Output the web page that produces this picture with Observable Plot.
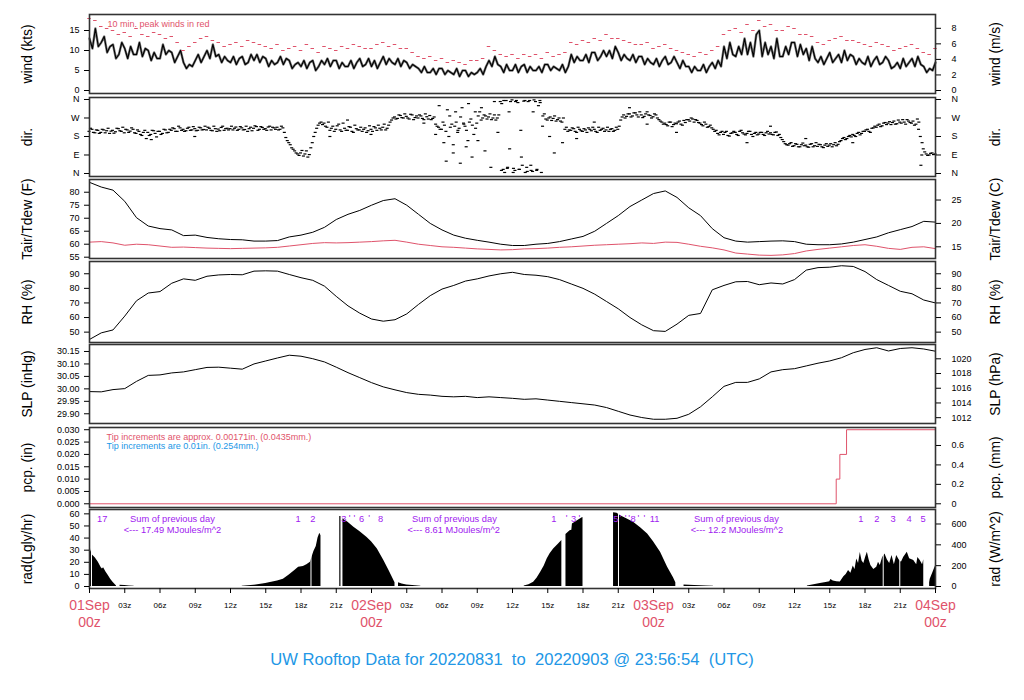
<!DOCTYPE html>
<html><head><meta charset="utf-8">
<script src="https://cdn.jsdelivr.net/npm/d3@7"></script>
<script src="https://cdn.jsdelivr.net/npm/@observablehq/plot@0.6"></script>
<style>
body{margin:0;background:#fff;font-family:"Liberation Sans",Arial,sans-serif;}
#chart{position:relative;width:1024px;height:700px;overflow:hidden;}
#title{position:absolute;top:650px;left:0;width:1024px;text-align:center;color:#2297E6;font-size:16.6px;white-space:pre;}
</style></head><body><div id="chart"><div id="title">UW Rooftop Data for 20220831  to  20220903 @ 23:56:54  (UTC)</div></div>
<script>
// ---------------- DATA ----------------
// wind speed (kts), every 15 min from 01Sep 00z
const windKts = [
13,10.5,15.5,11, 12,13.5,9.5,11, 11.5,8,9,12, 10.5,8,11,9, 9,12,8.5,10.5, 10,7.5,9.5,8, 8,11.5,9,10, 9.5,7,8.5,10,
7,5.5,6.5,6, 7.5,9,7,8.5, 10,8,11.5,8.5, 9,7,8.5,7.5, 7,8.5,6.5,8, 8.5,6.5,7,9, 7.5,9,7,8.5, 8,6,7.5,6.5,
7,8.5,6.5,8, 7.5,5.5,6.5,7, 6,7.5,5.5,7, 7.5,5,6,7.5, 6.5,8,6,7.5, 7.5,5.5,7,6, 6,7.5,5.5,7, 8,6,6.5,8,
6,7.5,5.5,7, 8.5,6.5,8,7, 6.5,8,6,7.5, 7,5.5,6.5,6, 5.5,4.5,6,4.5, 4.5,5.5,4,5.5, 5.5,4,5,4.5, 4,5.5,3.5,5,
5,3.5,4.5,4, 4.5,5.5,4,6, 7.5,6,8.5,6.5, 6,4.5,6.5,5, 5,6.5,4.5,6, 6.5,4.5,6,5, 5,6,4.5,6.5, 6.5,5,6,5.5,
5,6.5,4.5,6, 9,7,8.5,7.5, 7.5,9,7,9.5, 9.5,7.5,8.5,10, 8.5,10,8,11, 9.5,7.5,9,8, 7.5,9,7,8.5, 8.5,6.5,8,7,
6.5,8,6,7.5, 8.5,6.5,7,8.5, 7,5.5,7.5,6, 6,4.5,6,5, 5,6.5,4.5,6, 7,5.5,7.5,6, 11,8,12,9, 8.5,11,9,13,
9,12,8.5,14, 15,8.5,12,9, 11,8,13,8.5, 8.5,11,9,12, 12,8.5,11.5,9, 10.5,7.5,11,8, 7,8.5,6.5,8, 9.5,7,8,9,
7,10,7.5,9, 8.5,6.5,8,7, 6.5,8.5,6,7.5, 8.5,6.5,7,8.5, 7.5,5.5,6,7, 5.5,8,6,7, 8,6,8.5,6.5, 6,4.5,5.5,5, 7
];
// 10-min peak winds (kts), every 30 min
const windPeakKts = [
18,17.5, 16,15.5, 15,14, 14.5,13.5, 15.5,14, 13.5,14.5, 14,13, 13.5,12, 10,11, 12,13, 13.5,12.5, 12,11,
11.5,12, 11,12.5, 12,11.5, 11,10.5, 11.5,10, 10.5,11, 10,11.5, 10.5,9.5, 11,10.5, 10,11, 10.5,11.5, 11,10.5,
10.5,11.5, 12,11, 11.5,10.5, 10.5,9.5, 8.5,8, 8.5,7.5, 8,7, 7.5,7, 6.5,7.5, 7.5,8, 11,10, 9,8.5,
9,8, 9,8.5, 9,8, 9.5,8.5, 9,9.5, 12,11.5, 12.5,12, 13,12.5, 14,13, 13,12.5, 12,11.5, 11.5,12,
10.5,11, 11.5,10.5, 10,9.5, 9,8.5, 9.5,9, 10,11, 14,15, 15.5,14.5, 16.5,15, 17.5,16, 16.5,15, 15,16,
15.5,14, 14,13.5, 12,11.5, 12.5,13, 13.5,12.5, 12.5,12, 11.5,11, 12,11.5, 11,10, 10.5,11, 11.5,10.5, 9.5,9, 10.5
];
// wind direction (deg), every 15 min on the quarter hour
const dirDeg = [
205,215,198,210, 200,212,208,195, 210,203,218,205, 198,212,206,215, 195,205,185,210, 200,190,208,178,
205,195,212,200, 210,218,205,222, 215,208,225,212, 218,210,222,214, 212,220,208,218, 216,224,210,220,
218,212,226,215, 222,214,205,225, 220,228,215,224, 218,226,212,222, 225,215,222,175, 150,125,110,95,
100,85,110,92, 150,200,235,250, 245,225,210,230, 215,240,205,220, 210,225,200,218, 212,205,222,208,
215,228,210,220, 225,212,235,260, 275,268,282,270, 278,265,285,272, 270,280,262,276, 282,268,240,225,
215,235,310,225, 140,250,220,320, 230,160,265,190, 245,300,270,280, 275,262,285,270, 350,20,355,300,
358,15,345,210, 352,30,355,10, 350,330,5,290, 260,275,268,255, 270,250,215,205, 210,218,200,215,
205,212,222,208, 215,200,210,220, 212,205,218,210, 215,260,285,278, 290,280,295,275, 285,278,300,282,
276,285,262,250, 245,232,250,238, 242,255,235,248, 262,270,250,258, 245,232,240,228, 222,205,195,200,
190,205,182,198, 200,185,210,192, 195,205,180,200, 192,200,185,205, 198,188,202,190, 165,145,138,150,
135,142,130,148, 138,128,145,135, 132,140,126,145, 138,130,150,142, 160,175,170,185, 190,180,200,195,
205,215,200,222, 225,240,232,248, 245,238,255,242, 250,262,240,255, 245,235,265,180, 120,95,90,100, 95
];
// wind direction (deg), every 15 min, 7.5 min past the quarter hour
const dirDegMid = [
220,200,212,195, 215,198,220,206, 196,220,208,225, 215,200,222,198, 212,190,200,170, 185,210,195,205,
190,215,198,215, 222,205,230,210, 205,220,210,228, 208,225,212,230, 225,210,230,205, 208,230,218,212,
230,220,210,228, 212,230,218,208, 232,210,228,215, 210,230,225,215, 212,230,200,160, 140,118,100,88,
112,95,80,125, 180,220,245,238, 230,250,220,205, 232,212,245,210, 228,205,235,212, 225,215,200,232,
205,222,235,212, 240,220,250,270, 265,285,272,290, 270,288,262,280, 285,268,290,265, 262,275,230,215,
250,205,180,240, 230,200,275,245, 210,250,235,300, 280,260,285,265, 290,270,260,285, 340,5,30,350,
25,355,20,40, 5,350,15,358, 20,355,280,265, 270,258,280,262, 255,270,225,212, 222,205,225,208,
218,200,215,225, 205,225,215,205, 225,215,205,225, 230,275,270,290, 275,295,285,300, 272,290,285,270,
290,270,255,240, 238,250,228,245, 250,240,258,262, 255,265,262,248, 238,250,225,235, 215,210,188,205,
200,185,195,205, 190,205,198,188, 205,190,195,188, 200,190,198,192, 190,200,185,175, 155,140,145,132,
145,130,140,135, 130,142,130,150, 142,130,138,132, 145,140,135,155, 170,165,180,178, 185,195,188,205,
212,205,220,230, 235,228,245,238, 252,248,240,260, 245,250,262,248, 255,240,250,90, 105,88,98,92
];
const dirExtraT = [29.5,29.8,30.2,30.4,30.7,31.0,31.2,31.4,31.6,31.9,32.1,32.3,32.6,32.9,33.1,33.4,33.7,34.2,34.5,34.8,
35.1,35.3,35.6,35.8,36.1,36.3,36.6,36.8,37.1,37.3,37.6,37.8,38.1,38.4,38.6,39.2,39.6,40.3,41.5,43.0,46.0,47.5,50.0,56.0,58.0,61.0,65.0,70.8,70.9,70.6,20.5,22.0,9.0,5.3,24.0,28.5];
const dirExtraDeg = [190,330,150,60,280,100,300,210,50,240,130,340,80,220,160,320,110,30,350,200,
15,355,25,120,5,350,20,80,355,10,40,300,15,345,230,180,100,150,170,250,320,240,200,150,230,170,150,40,150,215,180,260,180,165,190,245];
// hourly air temperature / dew point (F), relative humidity (%), sea level pressure (inHg)
const tairF = [83.8,82,80.8,76.5,70.2,67,66,65.5,63.3,63.5,62.6,62.1,61.8,61.7,61.2,61.2,61.4,62.8,63.5,64.6,66.5,69.5,71.5,73,75,
76.8,77.5,75,71.5,68,65.5,63.5,62.3,61.5,60.8,60,59.5,59.5,60,60.3,61,62,63,65,68,71,74.5,77,79.5,
80.5,78,74,71,66,62.5,61.2,60.8,61,61.2,61.3,61,60,59.8,59.8,60.1,60.8,61.8,62.8,64.4,65.6,66.8,68.8,68.5];
const tdewF = [60.8,61,60.5,59.6,60,59.8,59.3,58.8,58.9,58.7,58.5,58.4,58.3,58.4,58.5,58.6,58.8,59.3,59.8,60.3,60.6,60.5,60.6,60.8,61,
61.3,61.5,60.8,60,59.5,59,58.8,58.5,58.2,58,57.8,57.9,58.2,58.3,58.5,58.8,59,59.3,59.6,59.8,60,60.2,60.5,60.3,
60.8,60.7,60,59.2,58.6,57.8,56.6,56.2,55.8,55.7,55.9,56.4,57.4,58,58.5,59,59.5,59.8,59.2,58.4,58,58.8,59,58.3];
const rhPct = [45,49.5,51.5,61,71.5,76.8,77.8,83.5,86.5,85.5,88.3,89.2,89.5,89.3,91.8,92,91.8,89.5,87.3,85.5,81.5,74.5,68,63,59,
57.5,58.5,62.5,69,75,79.5,82,85,86.5,88.5,90,91,89.5,89,88,86,83,80,76,71,66,60,55,51,
50.5,55.5,61.5,62.8,79,82,84.5,84.7,82.5,83.7,83,86,92.5,94.2,94.5,95.5,95,91.5,86,82,78,76.3,72,70];
const slpInHg = [29.989,29.988,29.997,30.001,30.030,30.054,30.056,30.064,30.068,30.077,30.086,30.087,30.083,30.079,30.100,30.112,30.124,30.135,30.131,30.121,30.108,30.087,30.065,30.045,30.025,
30.008,29.996,29.985,29.978,29.975,29.970,29.968,29.970,29.965,29.968,29.965,29.962,29.958,29.960,29.955,29.950,29.945,29.940,29.935,29.925,29.910,29.895,29.885,29.878,
29.878,29.882,29.898,29.928,29.968,30.010,30.026,30.026,30.040,30.068,30.077,30.081,30.092,30.103,30.112,30.125,30.145,30.158,30.165,30.152,30.162,30.165,30.160,30.151];
// accumulated precipitation (in)
const pcpT = [0, 63.55, 63.86, 64.43, 72];
const pcpIn = [0, 0.01, 0.02, 0.03, 0.03];
// solar radiation (Lgly/hr); NaN = no data
const radT = [0,0.1,0.25,0.5,0.75,1.0,1.1,1.2,1.4,1.6,1.8,2.0,2.2,2.3,2.35,
2.6,3.0,3.4,3.8,3.85,
13.0,14.0,15.0,15.5,16.0,16.5,17.0,17.5,17.8,18.2,18.5,18.8,19.0,19.1,19.3,19.45,19.6,19.7,19.72,
21.3,21.4,21.45,
21.57,21.7,22.0,22.5,23.0,23.6,24.0,24.5,25.05,25.5,26.0,26.05,
26.3,26.6,27.0,27.5,28.2,28.25,
37.0,37.4,37.8,38.1,38.4,38.7,38.95,39.2,39.5,39.9,40.2,40.25,
40.55,40.9,41.05,41.1,41.5,41.9,42.0,42.05,
44.6,44.9,45.2,45.8,46.3,46.9,47.5,48.0,48.6,49.2,49.7,49.9,49.95,
50.6,51.5,52.5,53.1,53.15,
61.1,62.2,62.8,63.0,63.1,63.3,63.6,63.9,64.2,64.4,64.6,64.8,65.0,65.15,65.3,65.45,65.6,65.75,65.9,66.05,66.2,66.35,66.5,66.75,67.0,67.15,67.3,67.5,67.7,67.9,68.1,68.3,68.5,68.7,68.9,69.1,69.3,69.6,69.8,70.0,70.15,70.4,70.5,70.7,70.9,71.0,71.05,
71.5,71.55,71.8,72.0];
const radLy = [39.6,30,26,23.5,20,15.5,14.5,15.5,12,9,6,3.5,1.5,0.5,NaN,
1.0,0.8,0.5,0.3,NaN,
0.3,1.0,2.5,3.5,4.5,6,9.5,13.5,16,16.5,18,20,26,29,33,40,44,42,NaN,
57.8,57.8,NaN,
55.9,55,53,49,45.5,40.7,37,31,21.5,13,3,NaN,
3,2,1.2,0.8,0.3,NaN,
0.5,1.5,3.6,7,11.8,17,22.8,27,31,35,38,NaN,
43,46,46.5,51.6,54,56.5,57,NaN,
61,60.5,58.5,55.5,53,48.5,43.4,37,28.3,16,7.2,3,NaN,
1.2,0.8,0.5,0.3,NaN,
0.5,2.5,3.5,4,5.8,4.5,4,3.7,8,10,13.2,11,17,14,22.7,19,28,21,19,24,28.2,22,17.3,14,16,20,17.3,24,26.9,22,19,25.6,18,25.6,22,20,24.2,28.3,23,22,21.5,18,24,21.5,18,22,NaN,
3,6,12,17];
const radGapT = [0.17, 18.85, 45.02, 67.55, 68.96];
// annotations in the radiation panel
const noteRow1T = [1.08,7.06,17.76,19.0,21.64,23.15,24.77,31.06,39.51,41.2,44.79,46.27,48.09,55.06,65.64,67.0,68.4,69.76,70.95];
const noteRow1 = ["17","Sum of previous day","1","2","3","6","8","Sum of previous day","1","3","5","8","11","Sum of previous day","1","2","3","4","5"];
const noteRow2T = [7.06,31.0,55.1];
const noteRow2 = ["<--- 17.49 MJoules/m^2","<--- 8.61 MJoules/m^2","<--- 12.2 MJoules/m^2"];
const noteMarkT = [22.13,22.55,23.8,40.6,41.7,45.19,45.62,45.93,46.72,47.23];
// axis ticks
const windKtsTicks = [0,5,10,15];
const windMsTicks = [0,2,4,6,8];
const dirTicks = [0,90,180,270,360];
const dirTickLabels = ["N","E","S","W","N"];
const tempFTicks = [55,60,65,70,75,80];
const tempCTicks = [15,20,25];
const rhTicks = [50,60,70,80,90];
const slpInTicks = [29.90,29.95,30.00,30.05,30.10,30.15];
const slpHpaTicks = [1012,1014,1016,1018,1020];
const pcpInTicks = [0,0.005,0.010,0.015,0.020,0.025,0.030];
const pcpMmTicks = [0,0.2,0.4,0.6];
const radLyTicks = [0,10,20,30,40,50,60];
const radWTicks = [0,200,400,600];
const hourTicks = [0,3,6,9,12,15,18,21,24,27,30,33,36,39,42,45,48,51,54,57,60,63,66,69,72];
const hourLabelT = [3,6,9,12,15,18,21,27,30,33,36,39,42,45,51,54,57,60,63,66,69];
const hourLabels = ["03z","06z","09z","12z","15z","18z","21z","03z","06z","09z","12z","15z","18z","21z","03z","06z","09z","12z","15z","18z","21z"];
const dayT = [0,24,48,72];
const dayLabels = ["01Sep","02Sep","03Sep","04Sep"];

// ---------------- BUILD ----------------
const RED = "#DF536B", BLUE = "#2297E6", PURPLE = "#A020F0";
const FONT = '"Liberation Sans", Arial, Helvetica, sans-serif';
const series = (arr, step, start = 0) => arr.map((v, i) => ({t: start + i * step, v}));
const pairs = (ts, vs) => ts.map((t, i) => ({t, v: vs[i]}));
const chart = document.getElementById("chart");

function axisPair(leftPos, leftLab, rightPos, rightLab) {
  const lm = new Map(leftPos.map((p, i) => [p, leftLab[i]]));
  const rm = new Map(rightPos.map((p, i) => [p, rightLab[i]]));
  return [
    Plot.axisY({anchor: "left", ticks: leftPos, tickFormat: d => lm.get(d), tickSize: 5, tickPadding: 5, label: null, fontSize: 9}),
    Plot.axisY({anchor: "right", ticks: rightPos, tickFormat: d => rm.get(d), tickSize: 5, tickPadding: 11, label: null, fontSize: 9})
  ];
}

function panel({top, bottom, domain, marks, axes, leftLabel, rightLabel, xAxis = false}) {
  const h = bottom - top;
  const mb = xAxis ? 75 : 0;
  const xOpt = xAxis ? {domain: [0, 72]} : {domain: [0, 72], axis: null};
  const extra = [];
  if (xAxis) {
    extra.push(Plot.axisX({anchor: "bottom", ticks: hourTicks, tickFormat: () => "", tickSize: 5, label: null}));
    extra.push(Plot.text(pairs(hourLabelT, hourLabels), {x: "t", text: "v", frameAnchor: "bottom", dy: 19, fontSize: 8}));
    extra.push(Plot.text(pairs(dayT, dayLabels), {x: "t", text: "v", frameAnchor: "bottom", dy: 21.5, fontSize: 14, fill: RED}));
    extra.push(Plot.text(pairs(dayT, dayLabels.map(() => "00z")), {x: "t", text: "v", frameAnchor: "bottom", dy: 38.5, fontSize: 14, fill: RED}));
  }
  const p = Plot.plot({
    width: 1024, height: h + mb,
    marginLeft: 89, marginRight: 89, marginTop: 0, marginBottom: mb,
    style: {background: "transparent", overflow: "visible", fontFamily: FONT, fontSize: "9px", color: "black"},
    x: xOpt,
    y: {domain},
    marks: [
      ...marks,
      Plot.frame({stroke: "#333", strokeWidth: 1.6}),
      ...axes,
      ...extra,
      Plot.text([leftLabel], {text: d => d, frameAnchor: "left", textAnchor: "middle", dx: -62, rotate: -90, fontSize: 13.8}),
      Plot.text([rightLabel], {text: d => d, frameAnchor: "right", textAnchor: "middle", dx: 60.5, rotate: -90, fontSize: 13.8})
    ]
  });
  p.style.position = "absolute";
  p.style.left = "0px";
  p.style.top = top + "px";
  chart.appendChild(p);
}

// 1. wind
const windData = series(windKts, 0.25);
panel({
  top: 14, bottom: 93, domain: [-0.75, 19],
  marks: [
    Plot.line(windData, {x: "t", y: "v", stroke: "#777", strokeWidth: 2.4}),
    Plot.line(windData, {x: "t", y: "v", stroke: "black", strokeWidth: 1.1}),
    Plot.ruleY(series(windPeakKts, 0.5), {y: "v", x1: d => d.t - 0.15, x2: d => d.t + 0.15, stroke: RED, strokeWidth: 1}),
    Plot.text(["10 min. peak winds in red"], {text: d => d, frameAnchor: "top-left", dx: 18, dy: 6, textAnchor: "start", fill: RED, fontSize: 9})
  ],
  axes: axisPair(windKtsTicks, windKtsTicks.map(String), windMsTicks.map(v => v * 1.943844), windMsTicks.map(String)),
  leftLabel: "wind (kts)", rightLabel: "wind (m/s)"
});
// 2. direction
const dirData = series(dirDeg, 0.25).concat(series(dirDegMid, 0.25, 0.125), pairs(dirExtraT, dirExtraDeg));
panel({
  top: 97, bottom: 176, domain: [-14.6, 369.7],
  marks: [
    Plot.ruleY(dirData, {y: "v", x1: d => d.t - 0.13, x2: d => d.t + 0.13, stroke: "black", strokeWidth: 1.2})
  ],
  axes: axisPair(dirTicks, dirTickLabels, dirTicks, dirTickLabels),
  leftLabel: "dir.", rightLabel: "dir."
});
// 3. temperature
panel({
  top: 179, bottom: 258, domain: [54.5, 84.9],
  marks: [
    Plot.line(series(tdewF, 1), {x: "t", y: "v", stroke: RED, strokeWidth: 1}),
    Plot.line(series(tairF, 1), {x: "t", y: "v", stroke: "black", strokeWidth: 1})
  ],
  axes: axisPair(tempFTicks, tempFTicks.map(String), tempCTicks.map(c => c * 9 / 5 + 32), tempCTicks.map(String)),
  leftLabel: "Tair/Tdew (F)", rightLabel: "Tair/Tdew (C)"
});
// 4. RH
panel({
  top: 261, bottom: 342, domain: [42.9, 98.4],
  marks: [Plot.line(series(rhPct, 1), {x: "t", y: "v", stroke: "black", strokeWidth: 1})],
  axes: axisPair(rhTicks, rhTicks.map(String), rhTicks, rhTicks.map(String)),
  leftLabel: "RH (%)", rightLabel: "RH (%)"
});
// 5. SLP
panel({
  top: 344, bottom: 423, domain: [29.861, 30.178],
  marks: [Plot.line(series(slpInHg, 1), {x: "t", y: "v", stroke: "black", strokeWidth: 1})],
  axes: axisPair(slpInTicks, slpInTicks.map(v => v.toFixed(2)), slpHpaTicks.map(v => v * 0.02953), slpHpaTicks.map(String)),
  leftLabel: "SLP (inHg)", rightLabel: "SLP (hPa)"
});
// 6. precipitation
panel({
  top: 427, bottom: 507, domain: [-0.0015, 0.0309],
  marks: [
    Plot.line(pairs(pcpT, pcpIn), {x: "t", y: "v", stroke: RED, strokeWidth: 1, curve: "step-after"}),
    Plot.text(["Tip increments are approx. 0.00171in. (0.0435mm.)"], {text: d => d, frameAnchor: "top-left", dx: 17, dy: 6, textAnchor: "start", fill: RED, fontSize: 9}),
    Plot.text(["Tip increments are 0.01in. (0.254mm.)"], {text: d => d, frameAnchor: "top-left", dx: 17, dy: 14.7, textAnchor: "start", fill: BLUE, fontSize: 9})
  ],
  axes: axisPair(pcpInTicks, pcpInTicks.map(v => v.toFixed(3)), pcpMmTicks.map(v => v / 25.4), pcpMmTicks.map(String)),
  leftLabel: "pcp. (in)", rightLabel: "pcp. (mm)"
});
// 7. radiation
panel({
  top: 509, bottom: 588, domain: [-1.65, 63.6], xAxis: true,
  marks: [
    Plot.areaY(pairs(radT, radLy), {x: "t", y1: 0, y2: "v", fill: "black"}),
    Plot.ruleX(radGapT, {x: d => d, stroke: "white", strokeWidth: 1}),
    Plot.text(pairs(noteRow1T, noteRow1), {x: "t", text: "v", frameAnchor: "top", dy: 6, fill: PURPLE, fontSize: 9.3}),
    Plot.text(pairs(noteRow2T, noteRow2), {x: "t", text: "v", frameAnchor: "top", dy: 17, fill: PURPLE, fontSize: 9.3}),
    Plot.text(noteMarkT, {x: d => d, text: () => "'", frameAnchor: "top", dy: 5, fill: PURPLE, fontSize: 9.3})
  ],
  axes: axisPair(radLyTicks, radLyTicks.map(String), radWTicks.map(v => v / 11.622), radWTicks.map(String)),
  leftLabel: "rad(Lgly/hr)", rightLabel: "rad (W/m^2)"
});
</script></body></html>
